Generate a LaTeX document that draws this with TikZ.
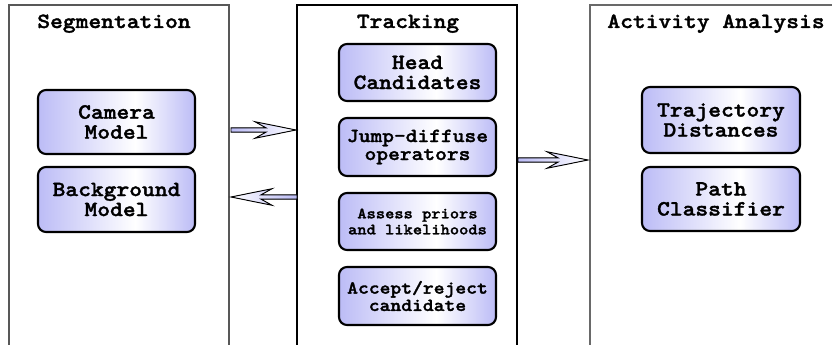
\documentclass[tikz,border=0pt]{standalone}
\usepackage{fontspec}
% bold typewriter face, widened to Courier proportions
\newfontfamily\boxfont{lmmonolt10-bold.otf}[FakeStretch=1.12, FakeBold=1.6]
\usetikzlibrary{calc}

\definecolor{lav}{RGB}{188,188,246}
\definecolor{panelgray}{RGB}{88,88,88}
\definecolor{panelgrayb}{RGB}{105,105,105}

% lavender -> white -> lavender across a box
\pgfdeclarehorizontalshading{boxshade}{100bp}{%
  color(0bp)=(lav); color(25bp)=(lav); color(56bp)=(white);
  color(75bp)=(lav); color(100bp)=(lav)}

% hollow block arrow with a swept-back head: [shading], start, tip, direction
\newcommand\fatarrow[4][]{%
  \filldraw[arrowbody,#1] let \p1=(#2), \p2=(#3) in
    (\x1,\y1+1.6pt) -- ({\x2-(#4)*22.5pt},\y1+1.6pt)
    -- ({\x2-(#4)*30.75pt},\y1+6.2pt) -- (\x2,\y1)
    -- ({\x2-(#4)*30.75pt},\y1-6.2pt) -- ({\x2-(#4)*22.5pt},\y1-1.6pt)
    -- (\x1,\y1-1.6pt) -- cycle;}

\tikzset{
  title/.style={anchor=base, font=\fontsize{16.3}{15}\selectfont\boxfont},
  stage/.style={draw=black, line width=1.6pt, rounded corners=6pt,
    shading=boxshade, align=center, inner sep=0pt,
    minimum width=117.75pt, minimum height=48pt,
    font=\fontsize{16.3}{15}\selectfont\boxfont},
  panel/.style={line width=1.1pt},
  arrowbody/.style={draw=black, line width=0.7pt, line join=miter}
}

\begin{document}
\begin{tikzpicture}[x=0.75pt, y=-0.75pt]
\useasboundingbox (0,0) rectangle (832,345);
\fill[white] (0,0) rectangle (832,345);

% panel frames (open at the bottom)
\coordinate (segSW) at (9,350);
\coordinate (segNE) at (229,5);
\coordinate (trkSW) at (297,350);
\coordinate (trkNE) at (517,5);
\coordinate (actSW) at (590,350);
\coordinate (actNE) at (840,5);
\draw[panel, draw=panelgray] (segSW) |- (segNE) -- (segNE |- segSW);
\draw[panel, draw=black] (trkSW) |- (trkNE) -- (trkNE |- trkSW);
\draw[panel, draw=panelgrayb] (actSW) |- (actNE);

% panel titles
\node[title] (segT) at (114,28) {Segmentation};
\node[title] (trkT) at (408,28) {Tracking};
\node[title] (actT) at (716,28) {Activity Analysis};

% segmentation stage
\node[stage] (cam) at (116.5,122) {Camera\\Model};
\node[stage, minimum height=48.75pt] (bg) at (116.5,199.5) {Background\\Model};

% tracking stage
\node[stage, minimum height=42.75pt] (head) at (417.5,72.5) {Head\\Candidates};
\node[stage, minimum height=43.5pt, font=\fontsize{15}{13.5}\selectfont\boxfont]
  (jump) at (417.5,147) {Jump-diffuse\\operators};
\node[stage, minimum height=42.75pt, font=\fontsize{11.8}{12}\selectfont\boxfont]
  (assess) at (417.5,221.5) {Assess priors\\and likelihoods};
\node[stage, minimum height=43.5pt, font=\fontsize{13.8}{13}\selectfont\boxfont]
  (accept) at (417.5,296) {Accept/reject\\candidate};

% activity analysis stage
\node[stage, minimum width=118.5pt, minimum height=49.5pt] (traj) at (721,120) {Trajectory\\Distances};
\node[stage, minimum width=118.5pt] (path) at (721,199) {Path\\Classifier};

% connectors between panels
\coordinate (s2tA) at (231,130);
\coordinate (s2tB) at (296,130);
\coordinate (t2sA) at (297,197);
\coordinate (t2sB) at (231,197);
\coordinate (t2aA) at (518,160);
\coordinate (t2aB) at (588,160);
\fatarrow[left color=lav, right color=white]{s2tA}{s2tB}{1}
\fatarrow[left color=white, right color=lav]{t2sA}{t2sB}{-1}
\fatarrow[left color=lav, right color=white]{t2aA}{t2aB}{1}
\end{tikzpicture}
\end{document}
